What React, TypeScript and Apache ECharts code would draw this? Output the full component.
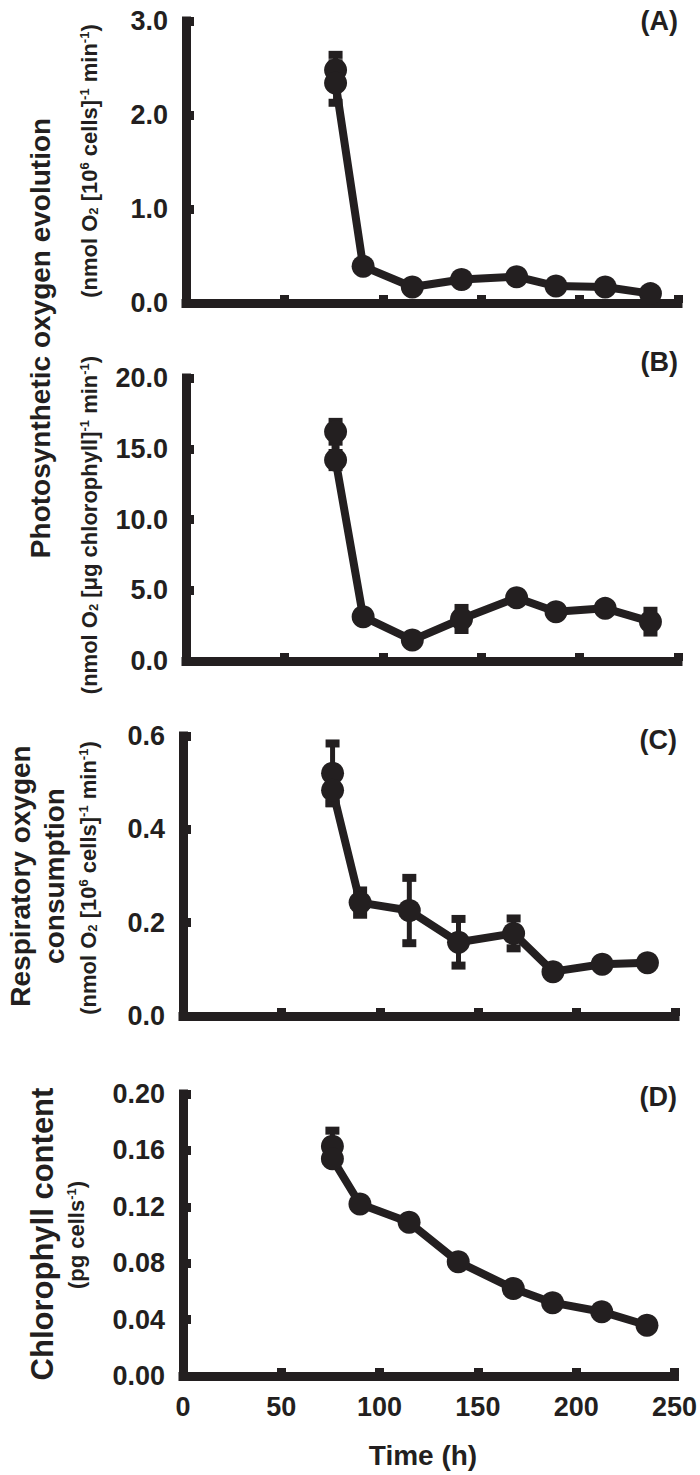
import React, { useEffect, useRef } from "react";
import * as echarts from "echarts";

// ---- data ----
const timeHours = [76, 76, 90, 115, 140, 168, 188, 213, 236];

const o2EvolutionPerCells = [2.48, 2.34, 0.39, 0.17, 0.25, 0.28, 0.18, 0.17, 0.1];
const o2EvolutionPerCellsErr = [0.16, 0.21, 0, 0, 0, 0, 0, 0, 0];

const o2EvolutionPerChl = [16.2, 14.2, 3.13, 1.48, 2.97, 4.47, 3.48, 3.72, 2.78];
const o2EvolutionPerChlErr = [0.7, 0.5, 0, 0, 0.78, 0, 0, 0, 0.77];

const o2Consumption = [0.52, 0.484, 0.243, 0.226, 0.158, 0.177, 0.095, 0.111, 0.114];
const o2ConsumptionErr = [0.064, 0.028, 0.026, 0.07, 0.05, 0.032, 0, 0, 0];

const chlorophyll = [0.163, 0.154, 0.122, 0.109, 0.081, 0.062, 0.052, 0.0456, 0.036];
const chlorophyllErr = [0.011, 0, 0, 0, 0, 0, 0, 0, 0];

const xMin = 0;
const xMax = 250;
const xStep = 50;

const yMaxes = [3, 20, 0.6, 0.2];
const ySteps = [1, 5, 0.2, 0.04];
const yDecimals = [1, 1, 1, 2];
const panelLetters = ["(A)", "(B)", "(C)", "(D)"];

const seriesValues = [o2EvolutionPerCells, o2EvolutionPerChl, o2Consumption, chlorophyll];
const seriesErrors = [o2EvolutionPerCellsErr, o2EvolutionPerChlErr, o2ConsumptionErr, chlorophyllErr];

// ---- style / layout ----
const INK = "#231f20";
const FONT = "'Liberation Sans', Arial, Helvetica, sans-serif";

const grids = [
  { left: 186, top: 21, width: 492, height: 282 },
  { left: 186, top: 378, width: 492, height: 283 },
  { left: 183, top: 736, width: 492, height: 280 },
  { left: 183, top: 1094, width: 492, height: 282 },
];

const tok = (size: number) => ({
  fontSize: size,
  fontWeight: "bold",
  fontFamily: FONT,
  fill: INK,
});

const subRich = {
  b: { ...tok(22) },
  sub: { ...tok(13), verticalAlign: "bottom" },
  sup: { ...tok(13), verticalAlign: "top" },
};

function vText(x: number, y: number, text: string, size: number, lineHeight?: number) {
  return {
    type: "text",
    x,
    y,
    rotation: Math.PI / 2,
    style: {
      text,
      ...tok(size),
      align: "center",
      verticalAlign: "middle",
      lineHeight: lineHeight || size * 1.2,
    },
  };
}

function vRich(x: number, y: number, text: string) {
  return {
    type: "text",
    x,
    y,
    rotation: Math.PI / 2,
    style: {
      text,
      ...tok(22),
      align: "center",
      verticalAlign: "middle",
      rich: subRich,
    },
  };
}

function hText(x: number, y: number, text: string, size: number, align: string) {
  return {
    type: "text",
    x,
    y,
    style: { text, ...tok(size), align, verticalAlign: "middle" },
  };
}

export default function App() {
  const ref = useRef<HTMLDivElement>(null);

  useEffect(() => {
    if (!ref.current) return;
    const chart = echarts.init(ref.current, undefined, { renderer: "svg" });

    const axisLine = { show: true, lineStyle: { color: INK, width: 9, cap: "square" } };
    const axisTick = { show: true, inside: true, length: 8, lineStyle: { color: INK, width: 9 } };
    const labelStyle = { color: INK, fontSize: 27, fontWeight: "bold", fontFamily: FONT };

    const xAxis = grids.map((_, i) => ({
      type: "value",
      gridIndex: i,
      min: xMin,
      max: xMax,
      interval: xStep,
      axisLine,
      axisTick,
      splitLine: { show: false },
      axisLabel: { show: i === 3, ...labelStyle, margin: 17 },
    }));

    const yAxis = grids.map((_, i) => ({
      type: "value",
      gridIndex: i,
      min: 0,
      max: yMaxes[i],
      interval: ySteps[i],
      axisLine,
      axisTick,
      splitLine: { show: false },
      axisLabel: {
        ...labelStyle,
        margin: 18,
        formatter: (v: number) => v.toFixed(yDecimals[i]),
      },
    }));

    const series: any[] = [];
    grids.forEach((_, i) => {
      const vals = seriesValues[i];
      const errs = seriesErrors[i];
      series.push({
        type: "custom",
        xAxisIndex: i,
        yAxisIndex: i,
        z: 2,
        encode: { x: 0, y: 1 },
        data: timeHours
          .map((t, k) => [t, vals[k], errs[k]])
          .filter((d) => d[2] > 0),
        renderItem: (_p: any, api: any) => {
          const x = api.value(0);
          const y = api.value(1);
          const e = api.value(2);
          const top = api.coord([x, y + e]);
          const bot = api.coord([x, y - e]);
          const hw = 7;
          return {
            type: "group",
            children: [
              {
                type: "line",
                shape: { x1: top[0], y1: top[1], x2: bot[0], y2: bot[1] },
                style: { stroke: INK, lineWidth: 5 },
              },
              {
                type: "line",
                shape: { x1: top[0] - hw, y1: top[1], x2: top[0] + hw, y2: top[1] },
                style: { stroke: INK, lineWidth: 8 },
              },
              {
                type: "line",
                shape: { x1: bot[0] - hw, y1: bot[1], x2: bot[0] + hw, y2: bot[1] },
                style: { stroke: INK, lineWidth: 8 },
              },
            ],
          };
        },
      });
      series.push({
        type: "line",
        xAxisIndex: i,
        yAxisIndex: i,
        z: 3,
        data: timeHours.map((t, k) => [t, vals[k]]),
        symbol: "circle",
        symbolSize: 23,
        lineStyle: { color: INK, width: 8 },
        itemStyle: { color: INK },
      });
    });

    const graphic: any[] = [
      vText(40, 338, "Photosynthetic oxygen evolution", 28),
      vRich(89, 161, "{b|(nmol O}{sub|2}{b| [10}{sup|6}{b| cells]}{sup|-1}{b| min}{sup|-1}{b|)}"),
      vRich(89, 525, "{b|(nmol O}{sub|2}{b| [μg chlorophyll]}{sup|-1}{b| min}{sup|-1}{b|)}"),
      vText(37, 876, "Respiratory oxygen\nconsumption", 28, 34),
      vRich(88, 878, "{b|(nmol O}{sub|2}{b| [10}{sup|6}{b| cells]}{sup|-1}{b| min}{sup|-1}{b|)}"),
      vText(42, 1234, "Chlorophyll content", 31),
      vRich(76, 1235, "{b|(pg cells}{sup|-1}{b|)}"),
      hText(678, 21, panelLetters[0], 27, "right"),
      hText(678, 362, panelLetters[1], 27, "right"),
      hText(677, 740, panelLetters[2], 27, "right"),
      hText(677, 1097, panelLetters[3], 27, "right"),
      hText(423, 1455, "Time (h)", 28, "center"),
    ];

    chart.setOption({
      animation: false,
      backgroundColor: "#ffffff",
      grid: grids,
      xAxis,
      yAxis,
      series,
      graphic,
    });

    return () => chart.dispose();
  }, []);

  return (
    <div
      ref={ref}
      style={{ position: "absolute", left: 0, top: 0, width: 700, height: 1475 }}
    />
  );
}
